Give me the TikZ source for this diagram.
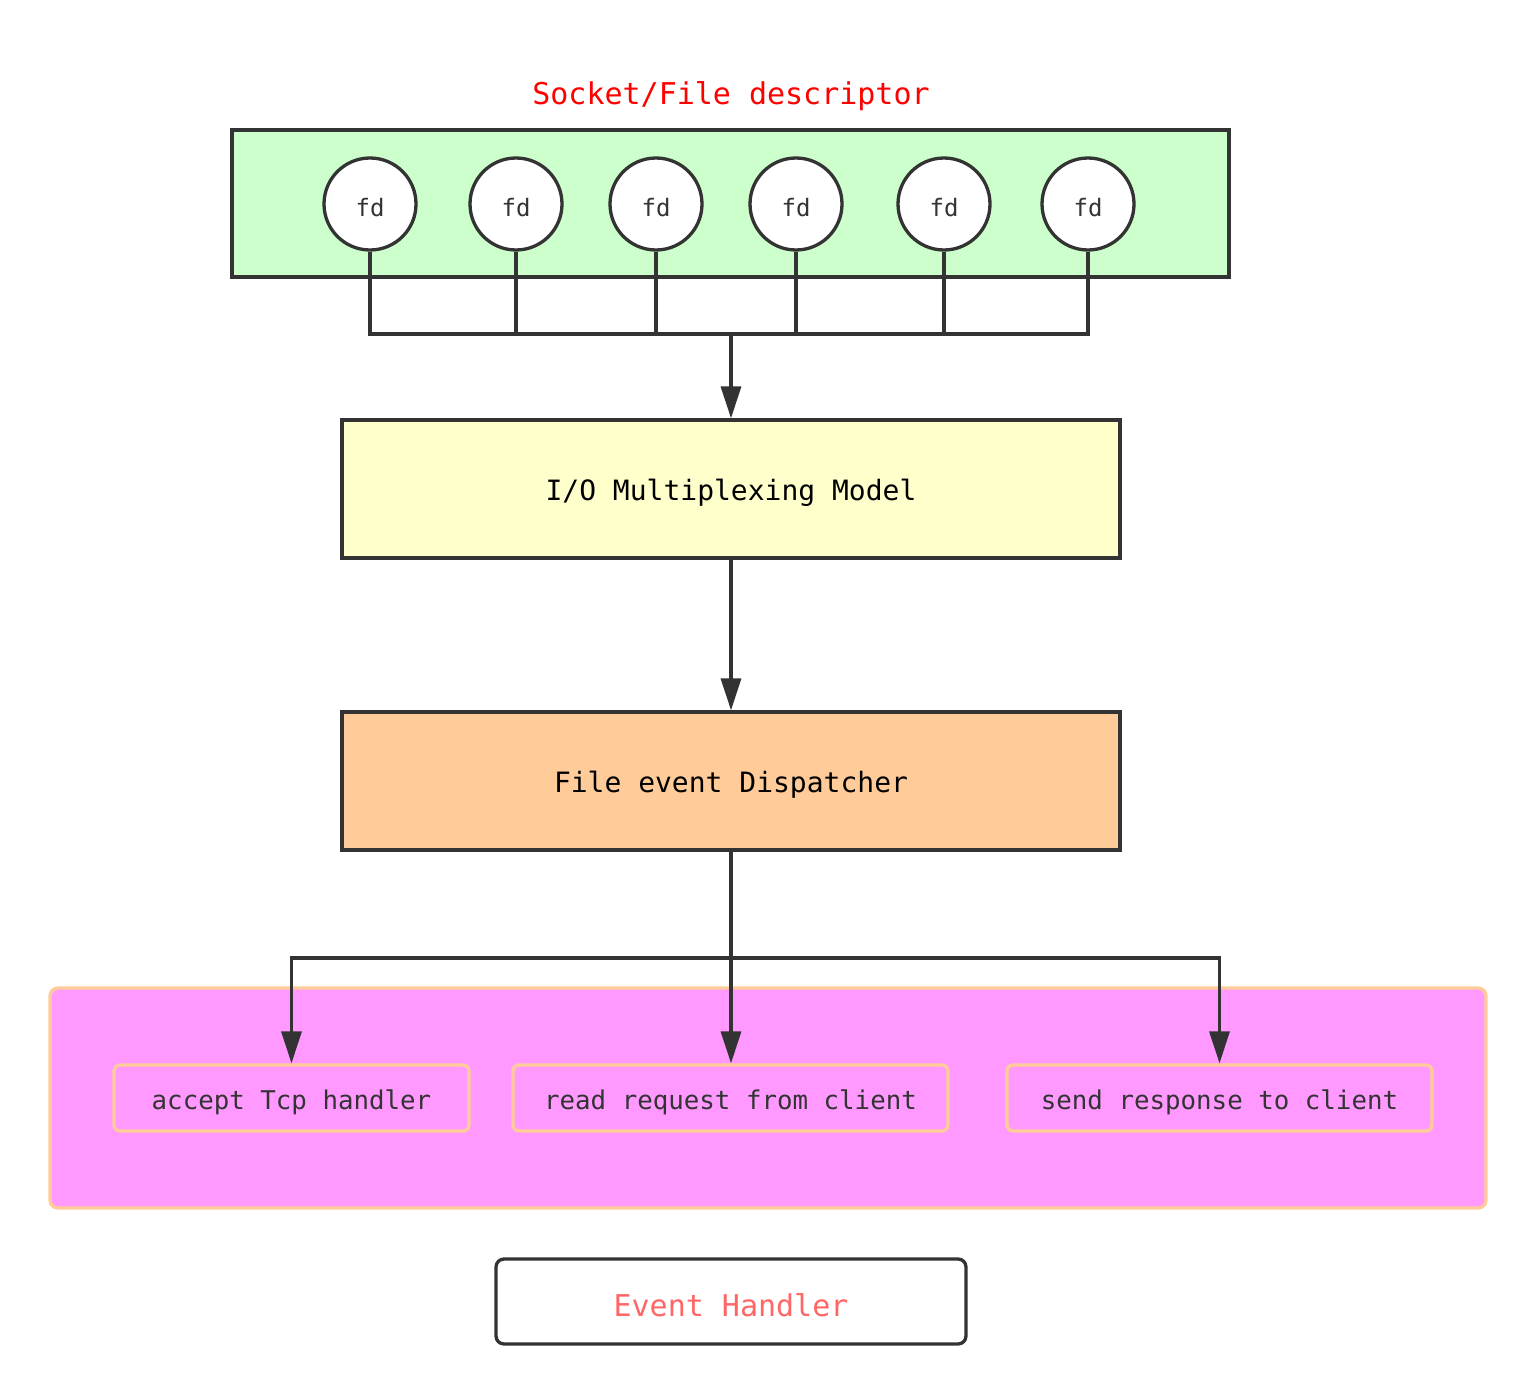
\documentclass[tikz,border=0pt]{standalone}
\usepackage{fontspec}
\setmonofont{DejaVu Sans Mono}
\usetikzlibrary{arrows.meta}
\definecolor{dk}{HTML}{333333}
\definecolor{grn}{HTML}{CCFFCC}
\definecolor{yel}{HTML}{FFFFCC}
\definecolor{org}{HTML}{FFCC99}
\definecolor{pnk}{HTML}{FF99FF}
\definecolor{salmon}{HTML}{FF6666}
\newcommand{\dn}[1]{\raisebox{-4pt}[\height][\depth]{#1}}
\begin{document}
\begin{tikzpicture}[x=1pt,y=-1pt,
  line width=3.3pt,
  bigbox/.style={draw=dk, rectangle, minimum width=778pt, minimum height=138pt, inner sep=0pt, font=\ttfamily\fontsize{28}{32}\selectfont},
  fdnode/.style={draw=dk, fill=white, circle, minimum size=92pt, inner sep=0pt, text=dk, font=\ttfamily\fontsize{24}{28}\selectfont},
  subbox/.style={draw=org, fill=pnk, rounded corners=6pt, minimum height=66pt, inner sep=0pt, text=dk, font=\ttfamily\fontsize{25.8}{30}\selectfont},
  conn/.style={draw=dk, line width=3.3pt},
  arr/.style={conn, -{Triangle[length=32pt,width=20pt]}}]
\useasboundingbox (0,0) rectangle (1536,1394);
\fill[white] (0,0) rectangle (1536,1394);
% title
\node[text=red, font=\ttfamily\fontsize{30}{34}\selectfont] (title) at (731,96) {Socket/File descriptor};
% green container
\node[draw=dk, fill=grn, rectangle, minimum width=997pt, minimum height=147pt, inner sep=0pt] (fdgroup) at (730.5,203.5) {};
\foreach \i/\x in {1/370,2/516,3/656,4/796,5/944,6/1088}{
  \node[fdnode] (fd\i) at (\x,204) {\dn{fd}};
}
\coordinate (bus) at (731,334);
\node[bigbox, fill=yel, text=black] (io) at (731,489) {\dn{I/O Multiplexing Model}};
\node[bigbox, fill=org, text=black] (disp) at (731,781) {\dn{File event Dispatcher}};
\foreach \i in {1,...,6}{
  \draw[conn] (fd\i.south) |- (bus);
}
\draw[arr] (bus) -- (io.north);
\draw[arr] (io.south) -- (disp.north);
% pink container
\node[draw=org, fill=pnk, rounded corners=8pt, minimum width=1436pt, minimum height=220pt, inner sep=0pt] (handlers) at (768,1098) {};
\node[subbox, minimum width=355pt] (acc) at (291.5,1098) {\dn{accept Tcp handler}};
\node[subbox, minimum width=435pt] (read) at (730.5,1098) {\dn{read request from client}};
\node[subbox, minimum width=425pt] (send) at (1219.5,1098) {\dn{send response to client}};
\coordinate (split) at (731,958);
\draw[conn] (disp.south) -- (split);
\draw[arr] (split) -| (acc.north);
\draw[arr] (split) -| (send.north);
\draw[arr] (split) -- (split |- read.north);
% legend
\node[draw=dk, fill=white, rounded corners=8pt, minimum width=470pt, minimum height=85pt, inner sep=0pt, text=salmon, font=\ttfamily\fontsize{30}{34}\selectfont] (eh) at (731,1301.5) {\dn{Event Handler}};
\end{tikzpicture}
\end{document}
